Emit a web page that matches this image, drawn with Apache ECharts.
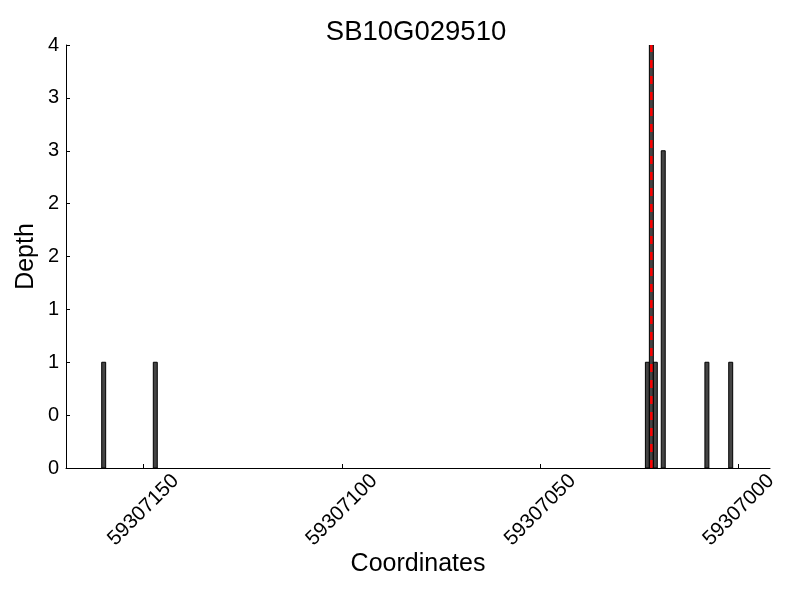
<!DOCTYPE html>
<html>
<head>
<meta charset="utf-8">
<script src="https://cdn.jsdelivr.net/npm/echarts@6/dist/echarts.min.js"></script>
<style>html,body{margin:0;padding:0;background:#fff;}#chart{width:800px;height:600px;}</style>
</head>
<body>
<div id="chart"></div>
<script>
// ---- data ----
const chartTitle = 'SB10G029510';
const positions = [59307160, 59307147, 59307023, 59307022, 59307021, 59307019, 59307008, 59307002];
const depths = [1, 1, 1, 4, 1, 3, 1, 1];
const markerPosition = 59307022;
const markerRange = [0, 4];
const xTickValues = [59307000, 59307050, 59307100, 59307150];
const yTickLabels = ['0', '0', '1', '1', '2', '2', '3', '3', '4'];

const FONT = '"Liberation Sans", Arial, sans-serif';
const chart = echarts.init(document.getElementById('chart'), null, {renderer: 'canvas'});

const barData = positions.map((p, i) => [p, depths[i]]);

const option = {
  backgroundColor: '#ffffff',
  animation: false,
  title: {
    text: chartTitle,
    left: 416,
    top: 18,
    textAlign: 'center',
    padding: 0,
    textStyle: {fontFamily: FONT, fontSize: 27.5, fontWeight: 'normal', color: '#000'}
  },
  grid: {left: 66, right: 30, top: 45, bottom: 132, containLabel: false, outerBoundsMode: 'none'},
  xAxis: {
    type: 'value',
    inverse: true,
    min: 59306992.1,
    max: 59307169.5,
    name: 'Coordinates',
    nameLocation: 'middle',
    nameGap: 84,
    nameMoveOverlap: false,
    nameTextStyle: {fontFamily: FONT, fontSize: 25, color: '#000'},
    splitLine: {show: false},
    axisLine: {show: true, onZero: false, lineStyle: {color: '#000', width: 1}},
    axisTick: {show: true, inside: true, length: 4, customValues: xTickValues, lineStyle: {color: '#000'}},
    axisLabel: {
      show: true,
      customValues: xTickValues,
      rotate: 45,
      align: 'center',
      verticalAlign: 'middle',
      margin: 42,
      fontFamily: FONT, fontSize: 20.5, color: '#000',
      formatter: v => String(Math.round(v))
    }
  },
  yAxis: {
    type: 'value',
    min: 0,
    max: 4,
    interval: 0.5,
    name: 'Depth',
    nameLocation: 'middle',
    nameRotate: 90,
    nameGap: 27,
    nameMoveOverlap: false,
    nameTextStyle: {fontFamily: FONT, fontSize: 25, color: '#000'},
    splitLine: {show: false},
    axisLine: {show: true, lineStyle: {color: '#000', width: 1}},
    axisTick: {show: true, inside: true, length: 4, lineStyle: {color: '#000'}},
    axisLabel: {
      show: true,
      margin: 7,
      fontFamily: FONT, fontSize: 20, color: '#000',
      formatter: v => yTickLabels[Math.round(v * 2)]
    }
  },
  series: [
    {
      type: 'custom',
      data: barData,
      encode: {x: 0, y: 1},
      clip: true,
      renderItem: function (params, api) {
        const x = api.value(0), y = api.value(1);
        const a = api.coord([x - 0.5, y]);
        const b = api.coord([x + 0.5, 0]);
        const left = Math.min(a[0], b[0]);
        const w = Math.abs(b[0] - a[0]);
        const top = Math.min(a[1], b[1]);
        const h = Math.abs(b[1] - a[1]);
        return {
          type: 'rect',
          shape: {x: left, y: top, width: w, height: h},
          style: {fill: '#444444', stroke: '#000000', lineWidth: 1}
        };
      },
      z: 2
    },
    {
      type: 'line',
      data: markerRange.map(v => [markerPosition, v]),
      symbol: 'none',
      lineStyle: {color: '#ff0000', width: 2.5, type: [8, 8]},
      z: 3
    }
  ]
};
chart.setOption(option);
</script>
</body>
</html>
